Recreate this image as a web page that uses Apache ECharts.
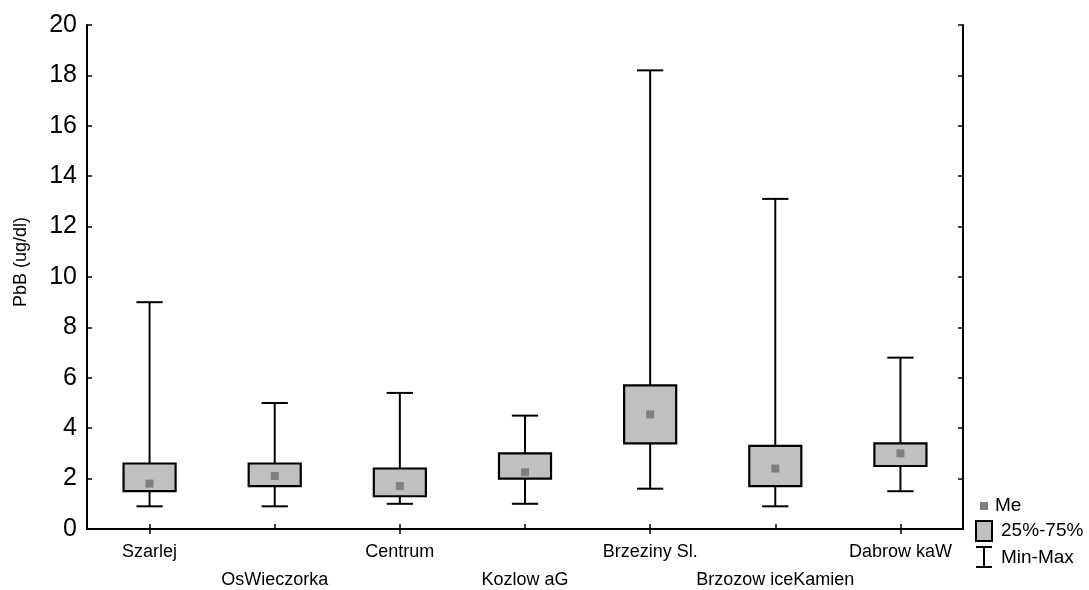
<!DOCTYPE html>
<html><head><meta charset="utf-8">
<script src="https://cdn.jsdelivr.net/npm/echarts@6/dist/echarts.min.js"></script>
<style>html,body{margin:0;padding:0;background:#fff}#c{width:1089px;height:590px}</style>
</head><body><div id="c"></div>
<script>
var categories = ['Szarlej','OsWieczorka','Centrum','Kozlow aG','Brzeziny Sl.','Brzozow iceKamien','Dabrow kaW'];
var minVals    = [0.9, 0.9, 1.0, 1.0, 1.6, 0.9, 1.5];
var q1Vals     = [1.5, 1.7, 1.3, 2.0, 3.4, 1.7, 2.5];
var medianVals = [1.8, 2.1, 1.7, 2.25, 4.55, 2.4, 3.0];
var q3Vals     = [2.6, 2.6, 2.4, 3.0, 5.7, 3.3, 3.4];
var maxVals    = [9.0, 5.0, 5.4, 4.5, 18.2, 13.1, 6.8];
var yTicks = {min: 0, max: 20, interval: 2};
var yName = 'PbB (ug/dl)';
var legendLabels = ['Me', '25%-75%', 'Min-Max'];

var FONT = '"Liberation Sans", Arial, sans-serif';
var data = categories.map(function (c, i) {
  return [i, minVals[i], q1Vals[i], medianVals[i], q3Vals[i], maxVals[i]];
});

function renderItem(params, api) {
  var i = api.value(0);
  var pMin = api.coord([i, api.value(1)]);
  var pQ1 = api.coord([i, api.value(2)]);
  var pMed = api.coord([i, api.value(3)]);
  var pQ3 = api.coord([i, api.value(4)]);
  var pMax = api.coord([i, api.value(5)]);
  var band = api.size([1, 0])[0];
  var boxW = band * 0.416;
  var capW = band * 0.21;
  var x = pQ1[0];
  var ls = {stroke: '#000', lineWidth: 2, fill: null};
  return {
    type: 'group',
    children: [
      {type: 'line', shape: {x1: x, y1: pMax[1], x2: x, y2: pQ3[1]}, style: ls},
      {type: 'line', shape: {x1: x, y1: pQ1[1], x2: x, y2: pMin[1]}, style: ls},
      {type: 'line', shape: {x1: x - capW / 2, y1: pMax[1], x2: x + capW / 2, y2: pMax[1]}, style: ls},
      {type: 'line', shape: {x1: x - capW / 2, y1: pMin[1], x2: x + capW / 2, y2: pMin[1]}, style: ls},
      {type: 'rect', shape: {x: x - boxW / 2, y: pQ3[1], width: boxW, height: pQ1[1] - pQ3[1]},
       style: {fill: '#c0c0c0', stroke: '#000', lineWidth: 2.2}},
      {type: 'rect', shape: {x: x - 4, y: pMed[1] - 4, width: 8, height: 8},
       style: {fill: '#808080', stroke: null}}
    ]
  };
}

var axisLine = {show: true, lineStyle: {color: '#000', width: 2}};
var tick = {show: true, inside: true, length: 5, lineStyle: {color: '#000', width: 1.5}};
var chart = echarts.init(document.getElementById('c'));
chart.setOption({
  animation: false,
  backgroundColor: '#fff',
  grid: {left: 87, top: 25, right: 126, bottom: 61, containLabel: false, outerBoundsMode: 'none'},
  xAxis: [{
    type: 'category', data: categories, boundaryGap: true, position: 'bottom',
    axisLine: axisLine,
    axisTick: Object.assign({alignWithLabel: true}, tick),
    axisLabel: {color: '#000', fontFamily: FONT, fontSize: 18, margin: 9, interval: 0, lineHeight: 28,
      formatter: function (v, idx) { return idx % 2 ? '\n' + v : v; }},
    splitLine: {show: false}
  }, {
    type: 'category', data: categories, boundaryGap: true, position: 'top',
    axisLine: axisLine,
    axisTick: Object.assign({alignWithLabel: true}, tick),
    axisLabel: {show: false}, splitLine: {show: false}
  }],
  yAxis: [{
    type: 'value', min: yTicks.min, max: yTicks.max, interval: yTicks.interval, position: 'left',
    axisLine: axisLine,
    axisTick: tick,
    axisLabel: {color: '#000', fontFamily: FONT, fontSize: 25, margin: 10},
    splitLine: {show: false}
  }, {
    type: 'value', min: yTicks.min, max: yTicks.max, interval: yTicks.interval, position: 'right',
    axisLine: axisLine,
    axisTick: tick,
    axisLabel: {show: false}, splitLine: {show: false}
  }],
  series: [{
    type: 'custom', renderItem: renderItem, data: data,
    xAxisIndex: 0, yAxisIndex: 0,
    encode: {x: 0, y: [1, 2, 3, 4, 5]}
  }],
  graphic: [
    {type: 'text', x: 21, y: 262, rotation: Math.PI / 2,
     style: {text: yName, font: '18px ' + FONT, fill: '#000', align: 'center', verticalAlign: 'middle'}},
    {type: 'rect', shape: {x: 980, y: 502, width: 8, height: 8}, style: {fill: '#808080'}},
    {type: 'text', x: 995, y: 506, style: {text: legendLabels[0], font: '19px ' + FONT, fill: '#000', verticalAlign: 'middle'}},
    {type: 'rect', shape: {x: 976, y: 521, width: 16, height: 20}, style: {fill: '#c0c0c0', stroke: '#000', lineWidth: 2}},
    {type: 'text', x: 1001, y: 531, style: {text: legendLabels[1], font: '19px ' + FONT, fill: '#000', verticalAlign: 'middle'}},
    {type: 'line', shape: {x1: 976, y1: 547, x2: 992, y2: 547}, style: {stroke: '#000', lineWidth: 2}},
    {type: 'line', shape: {x1: 984, y1: 547, x2: 984, y2: 567}, style: {stroke: '#000', lineWidth: 2}},
    {type: 'line', shape: {x1: 976, y1: 567, x2: 992, y2: 567}, style: {stroke: '#000', lineWidth: 2}},
    {type: 'text', x: 1001, y: 558, style: {text: legendLabels[2], font: '19px ' + FONT, fill: '#000', verticalAlign: 'middle'}}
  ]
});
</script></body></html>
